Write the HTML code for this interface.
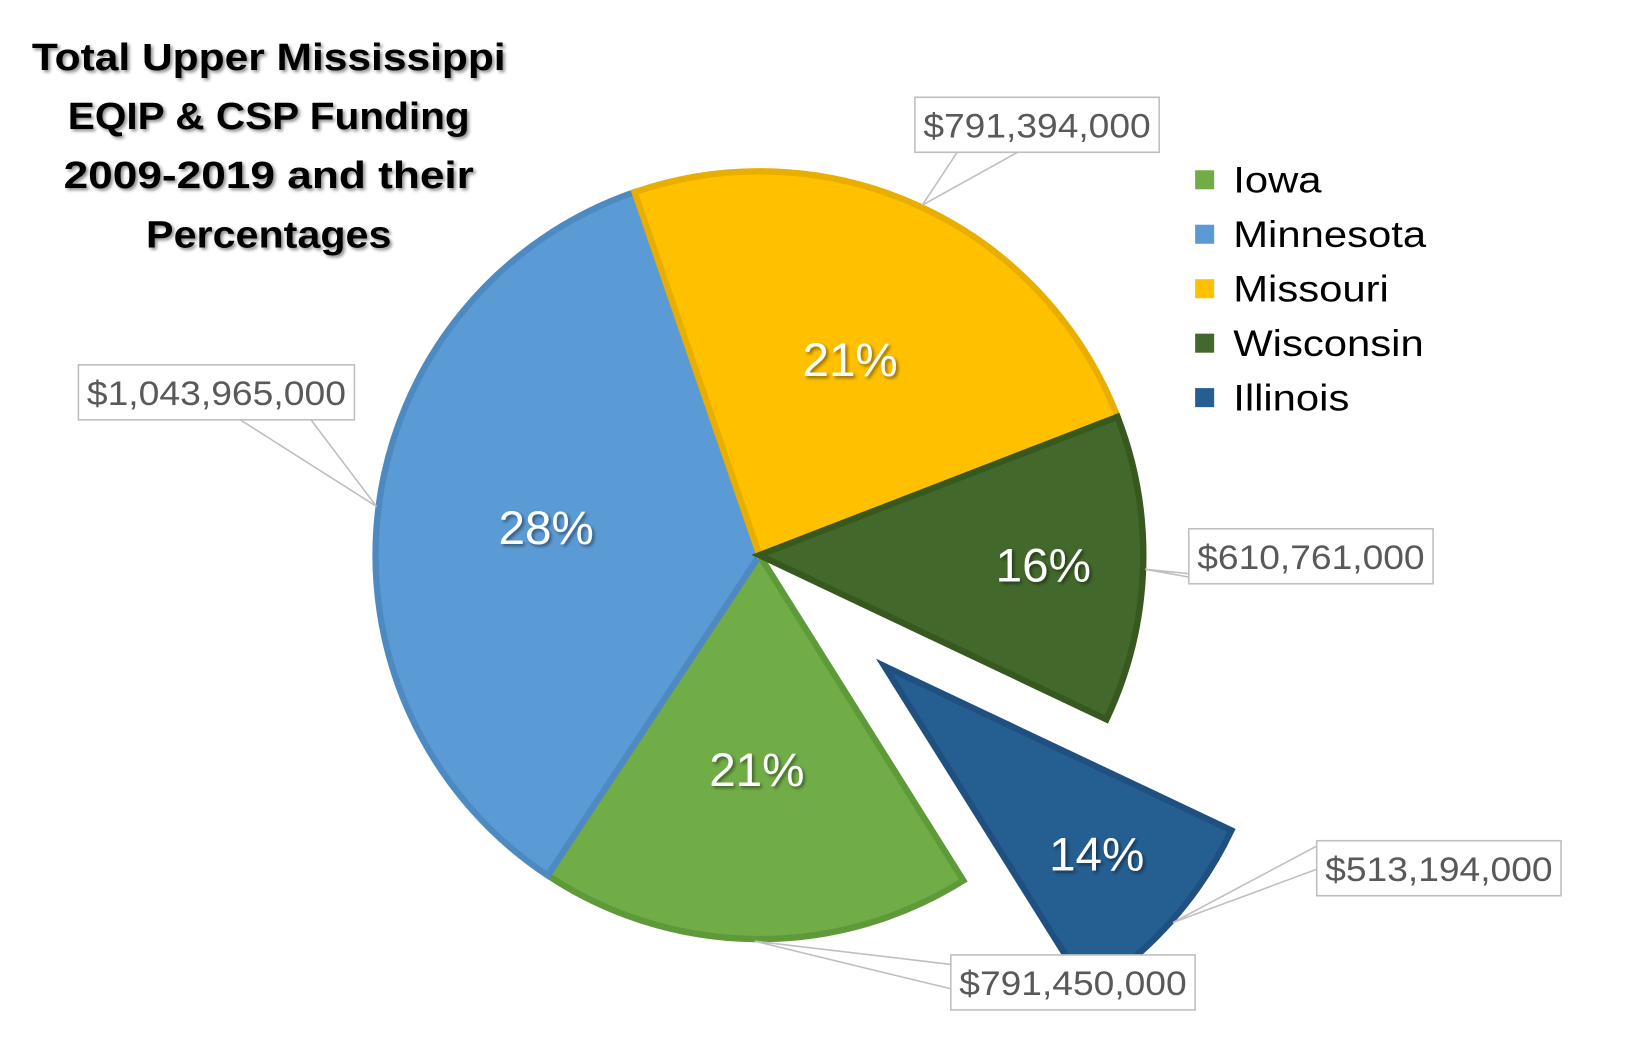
<!DOCTYPE html>
<html><head><meta charset="utf-8"><style>
html,body{margin:0;padding:0;background:#fff;}
svg{display:block;}
text{font-family:"Liberation Sans",sans-serif;}
</style></head><body>
<svg id="chart" width="1650" height="1048" viewBox="0 0 1560 991" xmlns="http://www.w3.org/2000/svg">
<defs>
<filter id="sh" x="-10%" y="-10%" width="120%" height="130%"><feDropShadow dx="2" dy="2" stdDeviation="1.5" flood-color="#000" flood-opacity="0.45"/></filter>
</defs>
<g font-weight="bold" font-size="36" text-anchor="middle" fill="#000" filter="url(#sh)">
<text x="254" y="66" textLength="448" lengthAdjust="spacingAndGlyphs">Total Upper Mississippi</text>
<text x="254" y="122" textLength="380" lengthAdjust="spacingAndGlyphs">EQIP &amp; CSP Funding</text>
<text x="254" y="178" textLength="388" lengthAdjust="spacingAndGlyphs">2009-2019 and their</text>
<text x="254" y="234" textLength="232" lengthAdjust="spacingAndGlyphs">Percentages</text>
</g>
<g id="slices"></g>
<g id="labels"></g>
<g id="legend"></g>
</svg>
<script>
const categories = ["Iowa","Minnesota","Missouri","Wisconsin","Illinois"];
const values = [791450000,1043965000,791394000,610761000,513194000];
const valueLabels = ["$791,450,000","$1,043,965,000","$791,394,000","$610,761,000","$513,194,000"];
const explode = [0,0,0,0,1];

const colors = ["#70AD47","#5B9BD5","#FFC000","#43682B","#255E91"];
const borders = ["#5E9A3A","#4E8AC2","#E8AE00","#37591F","#1F5080"];
const boxPos = [[899,903],[74,345],[865,92],[1124,500],[1245,795]];
const anchorOff = [[[0,9],[0,32]],[[153,52],[220,52]],[[40,52],[97,52]],[[36,52],[96,52]],[[0,5],[0,27]]];
const cx = 718, cy = 525, R = 363, startDeg = 157, explodeDist = 158;
const NS = "http://www.w3.org/2000/svg";
const total = values.reduce((a,b)=>a+b,0);
// view-tilt angular distortion
function warp(deg){return deg + 20*Math.sin((deg+50)*Math.PI/180);}
function pt(x,y,r,deg){const a=deg*Math.PI/180;return [x+r*Math.sin(a), y-r*Math.cos(a)];}
const sG=document.getElementById('slices'), lG=document.getElementById('labels'), gG=document.getElementById('legend');
let acc=0;
values.forEach((v,i)=>{
  const d0=startDeg+acc/total*360; acc+=v; const d1=startDeg+acc/total*360;
  const a0=warp(d0), a1=warp(d1);
  const mid=(a0+a1)/2;
  const [ox,oy]=pt(0,0,explode[i]*explodeDist,mid);
  const x=cx+ox,y=cy+oy;
  const p0=pt(x,y,R,a0), p1=pt(x,y,R,a1);
  const large=(a1-a0)>180?1:0;
  const path=document.createElementNS(NS,'path');
  path.setAttribute('d',`M${x},${y} L${p0[0]},${p0[1]} A${R},${R} 0 ${large} 1 ${p1[0]},${p1[1]} Z`);
  path.setAttribute('fill',colors[i]);path.setAttribute('stroke',borders[i]);path.setAttribute('stroke-width','6');path.setAttribute('stroke-linejoin','miter');
  
  
  sG.appendChild(path);
  const frac=v/total; const rl=R*(frac<0.18?0.74:0.56);
  const lp=pt(x,y,rl,mid);
  const t=document.createElementNS(NS,'text');
  t.setAttribute('x',lp[0]);t.setAttribute('y',lp[1]+15);t.setAttribute('text-anchor','middle');t.setAttribute('font-size','45');t.setAttribute('fill','#fff');t.setAttribute('filter','url(#sh)');
  t.textContent=Math.round(frac*100)+'%';
  
  
  lG.appendChild(t);
  const [bx,by]=boxPos[i]; const bw=(valueLabels[i].length>12?261:231), bh=52;
  const ep=pt(x,y,R+2,mid);
  const e1=[bx+anchorOff[i][0][0],by+anchorOff[i][0][1]], e2=[bx+anchorOff[i][1][0],by+anchorOff[i][1][1]];
  const leader=document.createElementNS(NS,'polyline');
  leader.setAttribute('points',`${e1[0]},${e1[1]} ${ep[0]},${ep[1]} ${e2[0]},${e2[1]}`);
  leader.setAttribute('fill','none');leader.setAttribute('stroke','#BFBFBF');leader.setAttribute('stroke-width','1.5');
  
  
  lG.appendChild(leader);
  const rect=document.createElementNS(NS,'rect');
  rect.setAttribute('x',bx);rect.setAttribute('y',by);rect.setAttribute('width',bw);rect.setAttribute('height',bh);rect.setAttribute('fill','#fff');rect.setAttribute('stroke','#BFBFBF');rect.setAttribute('stroke-width','1.5');
  
  
  lG.appendChild(rect);
  const vt=document.createElementNS(NS,'text');
  vt.setAttribute('x',bx+8);vt.setAttribute('y',by+38);vt.setAttribute('font-size','32');vt.setAttribute('fill','#595959');
  vt.setAttribute('textLength',bw-16);vt.setAttribute('lengthAdjust','spacingAndGlyphs');
  vt.textContent=valueLabels[i];
  
  
  lG.appendChild(vt);
  const ly=170+i*51.5;
  const sq=document.createElementNS(NS,'rect');
  sq.setAttribute('x',1130);sq.setAttribute('y',ly-9);sq.setAttribute('width',18);sq.setAttribute('height',18);sq.setAttribute('fill',colors[i]);
  
  
  gG.appendChild(sq);
  const lt=document.createElementNS(NS,'text');
  lt.setAttribute('x',1166);lt.setAttribute('y',ly+12);lt.setAttribute('font-size','35');lt.setAttribute('fill','#000');
  lt.textContent=categories[i];
  
  
  gG.appendChild(lt);
  try{const w=lt.getComputedTextLength(); if(w>0){lt.setAttribute('textLength',w*1.13);lt.setAttribute('lengthAdjust','spacingAndGlyphs');}}catch(e){}
});
</script>
</body></html>
